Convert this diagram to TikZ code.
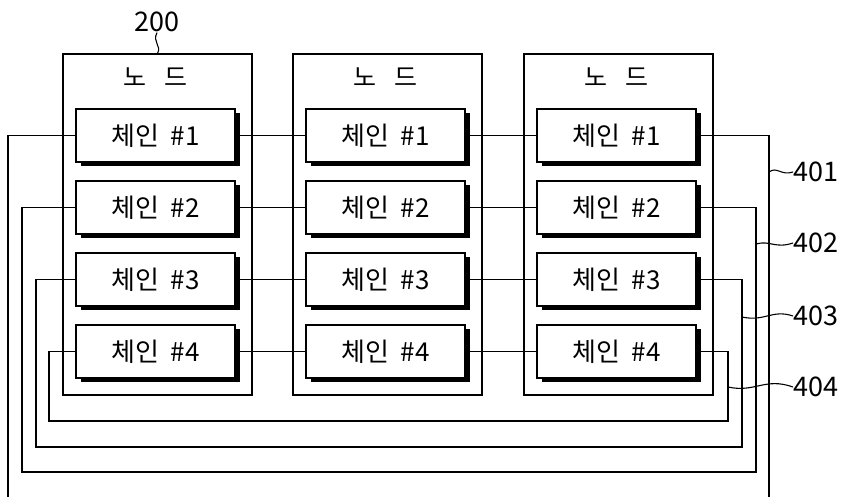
\documentclass[tikz,border=0pt]{standalone}
\usepackage{fontspec}
\setmainfont{Noto Sans CJK KR}
\usetikzlibrary{shadows}
\begin{document}
\begin{tikzpicture}[x=1pt,y=-1pt,line width=1.3pt]
\useasboundingbox (0,0) rectangle (842,497);
\tikzset{
  nodebox/.style={draw, minimum width=189pt, minimum height=341pt, inner sep=0pt},
  chainbox/.style={draw, fill=white, minimum width=159pt, minimum height=53pt, inner sep=0pt,
    font=\fontsize{26}{30}\selectfont,
    general shadow={fill=black, shadow xshift=5pt, shadow yshift=-4pt}},
  titletext/.style={inner sep=0pt, font=\fontsize{25}{29}\selectfont},
  reftext/.style={inner sep=0pt, font=\fontsize{27}{32}\selectfont},
  wire/.style={line width=1.3pt},
  leader/.style={line width=1.1pt}
}
% outer node boxes
\foreach \n/\x in {1/157.5,2/387.5,3/618.5}{
  \node[nodebox] (n\n) at (\x,224.5) {};
  \node[titletext] (t\n) at (\x-2,77) {노\hspace{0.7em}드};
}
% chain boxes
\foreach \n/\x in {1/155.5,2/385.5,3/616.5}{
  \foreach \c/\y in {1/135.5,2/207.5,3/279.5,4/351.5}{
    \node[chainbox] (c\n\c) at (\x,\y) {체인\hspace{0.45em}\#\c};
  }
}
% horizontal connectors
\foreach \c in {1,2,3,4}{
  \draw[wire] (c1\c.east) -- (c2\c.west);
  \draw[wire] (c2\c.east) -- (c3\c.west);
}
% ring wires
\coordinate (L1) at (8,497);
\coordinate (R1) at (769,497);
\draw[wire] (c11.west) -| (L1);
\draw[wire] (c31.east) -| (R1);
\coordinate (A2) at (22,472); \coordinate (B2) at (756,472);
\coordinate (A3) at (36,447); \coordinate (B3) at (742,447);
\coordinate (A4) at (49,421); \coordinate (B4) at (728,421);
\draw[wire] (c12.west) -| (A2) -- (B2) |- (c32.east);
\draw[wire] (c13.west) -| (A3) -- (B3) |- (c33.east);
\draw[wire] (c14.west) -| (A4) -- (B4) |- (c34.east);
% reference labels
\node[reftext, anchor=west] (l401) at (793,172) {401};
\node[reftext, anchor=west] (l402) at (793,243) {402};
\node[reftext, anchor=west] (l403) at (793,316) {403};
\node[reftext, anchor=west] (l404) at (793,387) {404};
\node[reftext] (l200) at (157,22) {200};
\coordinate (p401) at (769,172);
\coordinate (p402) at (756,244);
\coordinate (p403) at (742,317);
\coordinate (p404) at (728,387);
\draw[leader] (p401) .. controls (777,166) and (781,176) .. (l401.west);
\draw[leader] (p402) .. controls (770,240) and (775,249) .. (l402.west);
\draw[leader] (p403) .. controls (765,322) and (772,309) .. (l403.west);
\draw[leader] (p404) .. controls (755,393) and (765,377) .. (l404.west);
\draw[leader] (l200.south) .. controls (152,42) and (162,46) .. (n1.north);
\end{tikzpicture}
\end{document}
